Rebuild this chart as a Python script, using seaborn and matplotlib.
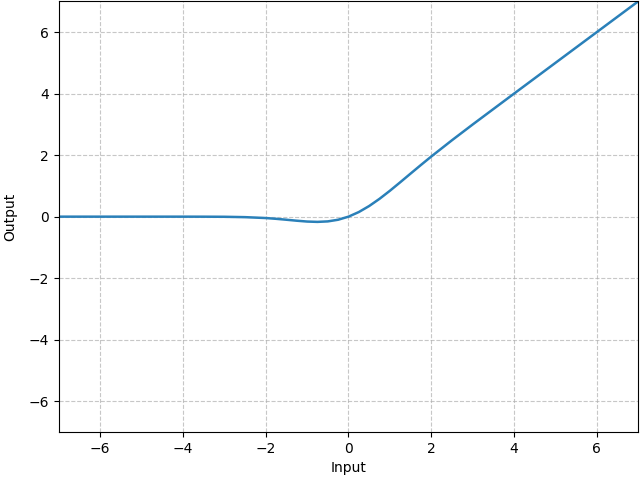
import matplotlib
matplotlib.use("Agg")
import matplotlib.pyplot as plt
import seaborn as sns
import pandas as pd

# values
x_vals = [-7.0, -6.0, -5.0, -4.0, -3.5, -3.0, -2.5, -2.0, -1.75, -1.5, -1.25, -1.0,
          -0.75, -0.5, -0.25, 0.0, 0.25, 0.5, 0.75, 1.0, 1.25, 1.5, 1.75, 2.0,
          2.5, 3.0, 4.0, 5.0, 6.0, 7.0]
y_vals = [0.0, 0.0, 0.0, 0.0, -0.001, -0.004, -0.016, -0.045, -0.070, -0.100, -0.132, -0.159,
          -0.170, -0.154, -0.100, 0.0, 0.150, 0.346, 0.580, 0.841, 1.118, 1.400, 1.680, 1.955,
          2.484, 2.996, 4.0, 5.0, 6.0, 7.0]

df = pd.DataFrame({"Input": x_vals, "Output": y_vals})

fig = plt.figure(figsize=(6.4, 4.82), dpi=100)
ax = fig.add_axes([0.092, 0.104, 0.905, 0.893])
sns.lineplot(data=df, x="Input", y="Output", ax=ax, color="#2a80b9", linewidth=1.8)
ax.set_xlim(-7, 7)
ax.set_ylim(-7, 7)
ax.set_xticks([-6, -4, -2, 0, 2, 4, 6])
ax.set_yticks([-6, -4, -2, 0, 2, 4, 6])
ax.grid(True, linestyle="--", alpha=0.7)
ax.set_xlabel("Input")
ax.set_ylabel("Output", labelpad=8.5)
fig.savefig("out.png", dpi=100)
